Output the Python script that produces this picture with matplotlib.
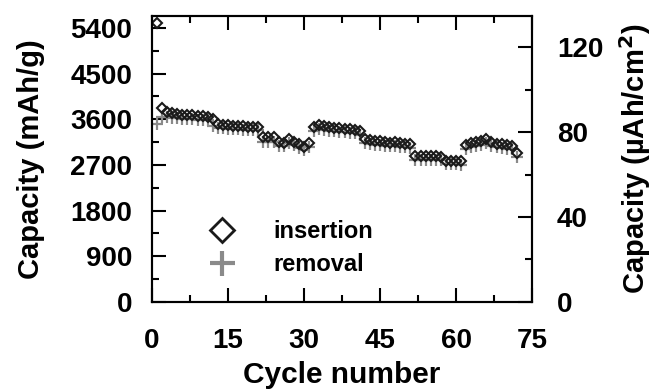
import numpy as np
import matplotlib
matplotlib.use("Agg")
import matplotlib.pyplot as plt
from matplotlib.ticker import MultipleLocator
from matplotlib.lines import Line2D

######################################
cycles = list(range(1, 73))
insertion = [5490,
             3820, 3740, 3720, 3700, 3690, 3690, 3680, 3670, 3660, 3650,
             3600, 3500, 3490, 3480, 3470, 3460, 3460, 3450, 3450, 3440,
             3240, 3240, 3240, 3150, 3140, 3220, 3160, 3120, 3060, 3140,
             3450, 3480, 3460, 3440, 3430, 3420, 3410, 3400, 3390, 3360,
             3220, 3190, 3180, 3170, 3150, 3140, 3160, 3130, 3120, 3110,
             2870, 2870, 2870, 2870, 2870, 2860, 2780, 2780, 2780, 2770,
             3090, 3140, 3160, 3170, 3210, 3150, 3120, 3110, 3090, 3080, 2940]
removal = [3500,
           3640, 3640, 3630, 3620, 3610, 3600, 3600, 3590, 3580, 3580,
           3470, 3430, 3420, 3410, 3400, 3400, 3390, 3390, 3380, 3380,
           3160, 3150, 3160, 3080, 3070, 3130, 3090, 3040, 2990, 3050,
           3370, 3400, 3390, 3370, 3360, 3350, 3340, 3330, 3320, 3290,
           3140, 3110, 3100, 3090, 3080, 3070, 3080, 3060, 3050, 3040,
           2800, 2800, 2800, 2800, 2800, 2790, 2710, 2710, 2710, 2700,
           3020, 3060, 3080, 3090, 3130, 3080, 3050, 3040, 3020, 3010, 2860]
seriesNames = ["insertion", "removal"]
xTicks = [0, 15, 30, 45, 60, 75]
yTicksLeft = [0, 900, 1800, 2700, 3600, 4500, 5400]
yTicksRight = [0, 40, 80, 120]
######################################

plt.rcParams['font.family'] = ['Liberation Sans', 'DejaVu Sans']
plt.rcParams['font.weight'] = 'bold'

fig = plt.figure(figsize=(6.52, 3.89), dpi=100)
ax = fig.add_axes([0.233, 0.2237, 0.583, 0.735])

#### DATA
ax.plot(cycles, removal, linestyle='none', marker='+', markersize=8,
        markeredgewidth=1.6, color='#8a8a8a', zorder=2)
ax.plot(cycles, insertion, linestyle='none', marker='D', markersize=5.3,
        markerfacecolor='none', markeredgewidth=1.5, markeredgecolor='#1a1a1a',
        zorder=3)

#### AXES
ax.set_xlim(0, 75)
ax.set_ylim(0, 5632)
ax.set_xticks(xTicks)
ax.set_yticks(yTicksLeft)
ax.xaxis.set_minor_locator(MultipleLocator(7.5))
ax.yaxis.set_minor_locator(MultipleLocator(450))
ax.tick_params(which='both', direction='in', top=True, width=1.5, labelsize=20)
ax.tick_params(which='major', length=10)
ax.tick_params(which='minor', length=5)
ax.tick_params(axis='y', pad=14)
ax.tick_params(axis='x', pad=19)
for s in ax.spines.values():
    s.set_linewidth(1.5)
ax.set_xlabel("Cycle number", fontsize=21.5, fontweight='bold', labelpad=5)
ax.set_ylabel("Capacity (mAh/g)", fontsize=21, fontweight='bold', labelpad=18)

ax2 = ax.twinx()
ax2.set_ylim(0, 134.6)
ax2.set_yticks(yTicksRight)
ax2.yaxis.set_minor_locator(MultipleLocator(20))
ax2.tick_params(which='both', direction='in', width=1.5, labelsize=20, pad=18)
ax2.tick_params(which='major', length=10)
ax2.tick_params(which='minor', length=5)
for s in ax2.spines.values():
    s.set_linewidth(1.5)
ax2.set_ylabel("Capacity (\u00b5Ah/cm$^\\mathbf{2}$)", fontsize=21,
               fontweight='bold', labelpad=10)

#### LEGEND
legHandles = [Line2D([], [], linestyle='none', marker='D', markersize=12,
                     markerfacecolor='none', markeredgewidth=2,
                     markeredgecolor='#1a1a1a'),
              Line2D([], [], linestyle='none', marker='+', markersize=18,
                     markeredgewidth=3, color='#8a8a8a')]
leg = ax.legend(legHandles, seriesNames, loc='lower left',
                bbox_to_anchor=(0.066, 0.015), frameon=False,
                prop={'size': 17, 'weight': 'bold'}, handletextpad=1.2,
                labelspacing=0.45)

fig.savefig("out.png", dpi=100)
